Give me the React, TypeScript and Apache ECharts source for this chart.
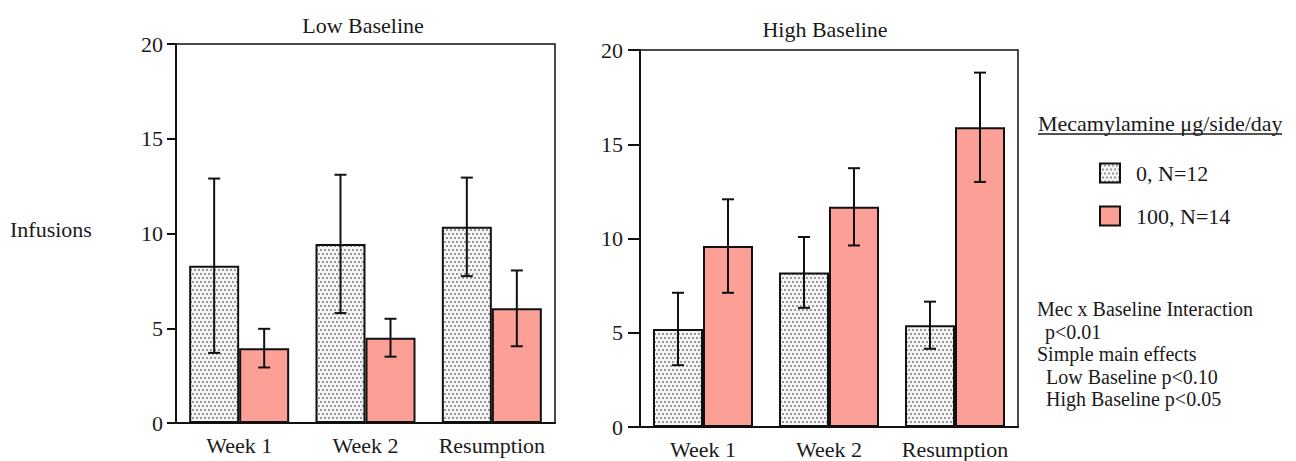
import React, { useEffect, useRef } from "react";
import * as echarts from "echarts";

const categories = ["Week 1", "Week 2", "Resumption"];
const yTicks = [0, 5, 10, 15, 20];

const seriesNames = ["0, N=12", "100, N=14"];

// Low Baseline
const lowSaline = [8.3, 9.45, 10.35];
const lowSalineErr = [4.6, 3.65, 2.6];
const lowMec = [3.95, 4.5, 6.05];
const lowMecErr = [1.02, 1.0, 2.0];

// High Baseline
const highSaline = [5.2, 8.2, 5.4];
const highSalineErr = [1.92, 1.88, 1.25];
const highMec = [9.6, 11.68, 15.9];
const highMecErr = [2.48, 2.05, 2.9];

const titles = ["Low Baseline", "High Baseline"];
const yAxisTitle = "Infusions";
const legendTitle = "Mecamylamine μg/side/day";
const notes = [
  "Mec x Baseline Interaction",
  "p<0.01",
  "Simple main effects",
  "Low Baseline p<0.10",
  "High Baseline p<0.05",
];
const noteIndent = [0, 8, 0, 9, 9];

const FONT = "Liberation Serif";
const INK = "#1a1a1a";
const RED = "#fc9f97";
const BAR_W = 50;

function makeDots(): HTMLCanvasElement {
  const c = document.createElement("canvas");
  c.width = 4;
  c.height = 8;
  const ctx = c.getContext("2d")!;
  ctx.fillStyle = "#f5f5f5";
  ctx.fillRect(0, 0, 4, 8);
  ctx.fillStyle = "#222";
  [[1, 2], [3, 6]].forEach(([x, y]) => {
    ctx.beginPath();
    ctx.arc(x, y, 0.8, 0, Math.PI * 2);
    ctx.fill();
  });
  return c;
}

export default function App() {
  const ref = useRef<HTMLDivElement>(null);

  useEffect(() => {
    document.body.style.margin = "0";
    const chart = echarts.init(ref.current!, null, { renderer: "svg" });
    const dots = { image: makeDots(), repeat: "repeat" };

    const errSeries = (means: number[], errs: number[], gi: number, offset: number) => ({
      type: "custom",
      name: "err" + gi + offset,
      xAxisIndex: gi,
      yAxisIndex: gi,
      z: 5,
      silent: true,
      encode: { x: 0, y: 1 },
      data: means.map((m, i) => [i, m, errs[i]]),
      renderItem: (_p: any, api: any) => {
        const i = api.value(0);
        const m = api.value(1);
        const e = api.value(2);
        const top = api.coord([i, m + e]);
        const bot = api.coord([i, m - e]);
        const x = top[0] + offset;
        const st = { stroke: "#111", lineWidth: 2 };
        return {
          type: "group",
          children: [
            { type: "line", shape: { x1: x, y1: top[1], x2: x, y2: bot[1] }, style: st },
            { type: "line", shape: { x1: x - 6, y1: top[1], x2: x + 6, y2: top[1] }, style: st },
            { type: "line", shape: { x1: x - 6, y1: bot[1], x2: x + 6, y2: bot[1] }, style: st },
          ],
        };
      },
    });

    const barSeries = (name: string, data: number[], gi: number, fill: any) => ({
      type: "bar",
      name,
      xAxisIndex: gi,
      yAxisIndex: gi,
      data,
      barWidth: BAR_W,
      barGap: "0%",
      itemStyle: { color: fill, borderColor: "#111", borderWidth: 2 },
    });

    const xAxis = (gi: number) => ({
      type: "category",
      gridIndex: gi,
      data: categories,
      axisLine: { lineStyle: { color: "#111", width: 2 } },
      axisTick: { alignWithLabel: true, length: 11, lineStyle: { color: "#111", width: 2 } },
      axisLabel: { interval: 0, margin: 11, fontFamily: FONT, fontSize: 22, color: INK },
    });

    const yAxis = (gi: number, tickLen: number, margin: number) => ({
      type: "value",
      gridIndex: gi,
      min: yTicks[0],
      max: yTicks[yTicks.length - 1],
      interval: yTicks[1] - yTicks[0],
      splitLine: { show: false },
      axisLine: { show: true, lineStyle: { color: "#111", width: 2 } },
      axisTick: { show: true, length: tickLen, lineStyle: { color: "#111", width: 2 } },
      axisLabel: { margin, fontFamily: FONT, fontSize: 22, color: INK },
    });

    const txt = (x: number, y: number, text: string, align = "left", size = 22) => ({
      type: "text",
      x,
      y,
      style: {
        text,
        fill: INK,
        font: `${size}px "${FONT}"`,
        textAlign: align,
        textVerticalAlign: "middle",
      },
    });

    const NOTE_TOP = 309;
    const NOTE_STEP = 22.5;

    chart.setOption({
      animation: false,
      grid: [
        { left: 176, top: 44, width: 379, height: 379, show: true, borderColor: "#111", borderWidth: 1.5 },
        { left: 640, top: 50, width: 378, height: 377, show: true, borderColor: "#111", borderWidth: 1.5 },
      ],
      xAxis: [xAxis(0), xAxis(1)],
      yAxis: [yAxis(0, 9, 13), yAxis(1, 12, 17)],
      legend: {
        data: seriesNames,
        orient: "vertical",
        left: 1094,
        top: 157,
        itemWidth: 20,
        itemHeight: 19,
        itemGap: 21,
        selectedMode: false,
        icon: "rect",
        textStyle: { fontFamily: FONT, fontSize: 22, color: INK, padding: [0, 0, 0, 11] },
      },
      series: [
        barSeries(seriesNames[0], lowSaline, 0, dots),
        barSeries(seriesNames[1], lowMec, 0, RED),
        barSeries(seriesNames[0], highSaline, 1, dots),
        barSeries(seriesNames[1], highMec, 1, RED),
        errSeries(lowSaline, lowSalineErr, 0, -BAR_W / 2),
        errSeries(lowMec, lowMecErr, 0, BAR_W / 2),
        errSeries(highSaline, highSalineErr, 1, -BAR_W / 2),
        errSeries(highMec, highMecErr, 1, BAR_W / 2),
      ],
      graphic: [
        txt(363, 25, titles[0], "center"),
        txt(825, 29, titles[1], "center"),
        txt(10, 229, yAxisTitle),
        txt(1038, 123, legendTitle),
        {
          type: "line",
          shape: { x1: 1038, y1: 134, x2: 1282, y2: 134 },
          style: { stroke: INK, lineWidth: 1.5 },
        },
        ...notes.map((n, i) => txt(1037 + noteIndent[i], NOTE_TOP + i * NOTE_STEP, n, "left", 20)),
      ],
    });

    return () => chart.dispose();
  }, []);

  return <div ref={ref} style={{ width: 1296, height: 461 }} />;
}
